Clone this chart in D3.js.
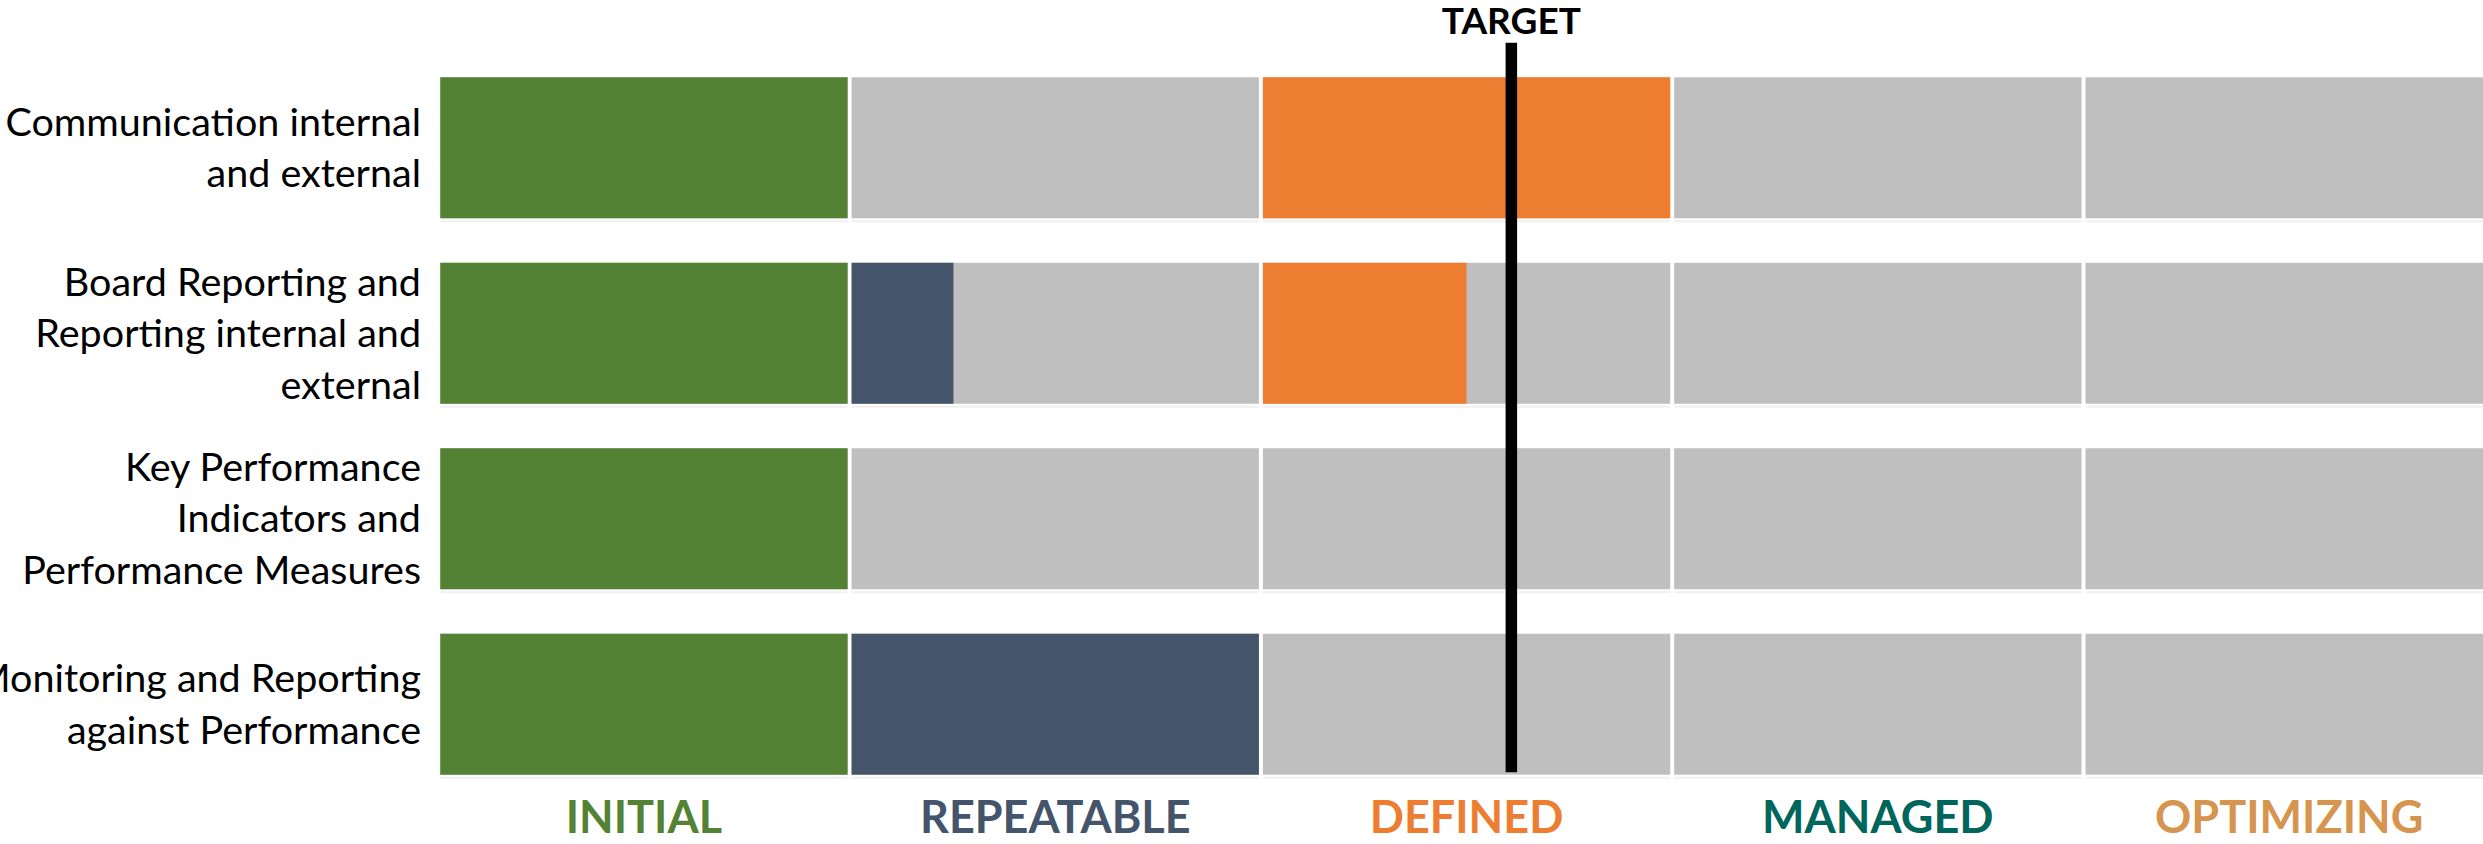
<!DOCTYPE html>
<html>
<head>
<meta charset="utf-8">
<script src="https://cdn.jsdelivr.net/npm/d3@7"></script>
<style>
  html, body { margin: 0; padding: 0; background: #fff; overflow: hidden; }
  svg { display: block; }
</style>
</head>
<body>
<svg id="chart" width="2483" height="844"></svg>
<script>
// ---- data ----
const categories = [
  "Communication internal and external",
  "Board Reporting and Reporting internal and external",
  "Key Performance Indicators and Performance Measures",
  "Monitoring and Reporting against Performance"
];
const categoryLines = [
  ["Communication internal", "and external"],
  ["Board Reporting and", "Reporting internal and", "external"],
  ["Key Performance", "Indicators and", "Performance Measures"],
  ["Monitoring and Reporting", "against Performance"]
];
const levels = ["INITIAL", "REPEATABLE", "DEFINED", "MANAGED", "OPTIMIZING"];
// fraction of each maturity level achieved, per category
const commScores       = [1, 0,    1,   0, 0];
const boardScores      = [1, 0.25, 0.5, 0, 0];
const kpiScores        = [1, 0,    0,   0, 0];
const monitoringScores = [1, 1,    0,   0, 0];
const targetLevel = 2.61;
const targetLabel = "TARGET";

// ---- styles ----
const levelFill  = ["#548235", "#44546A", "#ED7D31", "#00695F", "#D6944E"];
const levelText  = ["#548235", "#44546A", "#ED7D31", "#00665C", "#D6944E"];
const emptyFill = "#BFBFBF";
const fontFamily = "Lato, 'Noto Sans', sans-serif";

const scores = [commScores, boardScores, kpiScores, monitoringScores];

const svg = d3.select("#chart");

const x = d3.scaleLinear().domain([0, levels.length]).range([440.3, 440.3 + 5 * 411.3]);
const y = d3.scaleBand().domain(categories).range([77.3, 774.7]).paddingInner(0.24).paddingOuter(0);
const gap = 4;
const segW = x(1) - x(0) - gap;

const rows = svg.append("g").selectAll("g.row")
  .data(categories.map((c, i) => ({cat: c, vals: scores[i], lines: categoryLines[i]})))
  .join("g").attr("class", "row");

// background segments
rows.each(function(d) {
  const g = d3.select(this);
  const y0 = y(d.cat), h = y.bandwidth();
  // faint shadow line under each segment
  g.selectAll("rect.under").data(levels).join("rect")
    .attr("class", "under")
    .attr("x", (l, i) => x(i)).attr("width", segW)
    .attr("y", y0 + h + 2).attr("height", 2)
    .attr("fill", "#F0F0F0");
  g.selectAll("rect.bg").data(levels).join("rect")
    .attr("class", "bg")
    .attr("x", (l, i) => x(i)).attr("width", segW)
    .attr("y", y0).attr("height", h)
    .attr("fill", emptyFill);
  g.selectAll("rect.fill").data(d.vals.map((v, i) => ({v, i})).filter(e => e.v > 0)).join("rect")
    .attr("class", "fill")
    .attr("x", e => x(e.i)).attr("width", e => segW * e.v)
    .attr("y", y0).attr("height", h)
    .attr("fill", e => levelFill[e.i]);
});

// category labels
const lineH = 51.5, capH = 27.5;
rows.each(function(d) {
  const cy = y(d.cat) + y.bandwidth() / 2;
  const n = d.lines.length;
  const first = cy - (n - 1) * lineH / 2 + capH / 2;
  d3.select(this).append("text")
    .attr("text-anchor", "end")
    .attr("font-family", fontFamily)
    .attr("font-size", 39.5)
    .attr("fill", "#000")
    .selectAll("tspan").data(d.lines).join("tspan")
    .attr("x", 421).attr("y", (t, i) => first + i * lineH)
    .text(t => t);
});

// level labels under the columns
svg.append("g").selectAll("text").data(levels).join("text")
  .attr("x", (l, i) => x(i) + segW / 2)
  .attr("y", 833)
  .attr("text-anchor", "middle")
  .attr("font-family", fontFamily)
  .attr("font-weight", "bold")
  .attr("font-size", 45)
  .attr("fill", (l, i) => levelText[i])
  .text(l => l);

// target line
const tx = x(Math.floor(targetLevel)) + segW * (targetLevel - Math.floor(targetLevel));
svg.append("line")
  .attr("x1", tx).attr("x2", tx)
  .attr("y1", 42.7).attr("y2", 772.3)
  .attr("stroke", "#000").attr("stroke-width", 11.5);
svg.append("text")
  .attr("x", tx).attr("y", 34.3)
  .attr("text-anchor", "middle")
  .attr("font-family", fontFamily)
  .attr("font-weight", "bold")
  .attr("font-size", 37)
  .attr("fill", "#000")
  .text(targetLabel);
</script>
</body>
</html>
